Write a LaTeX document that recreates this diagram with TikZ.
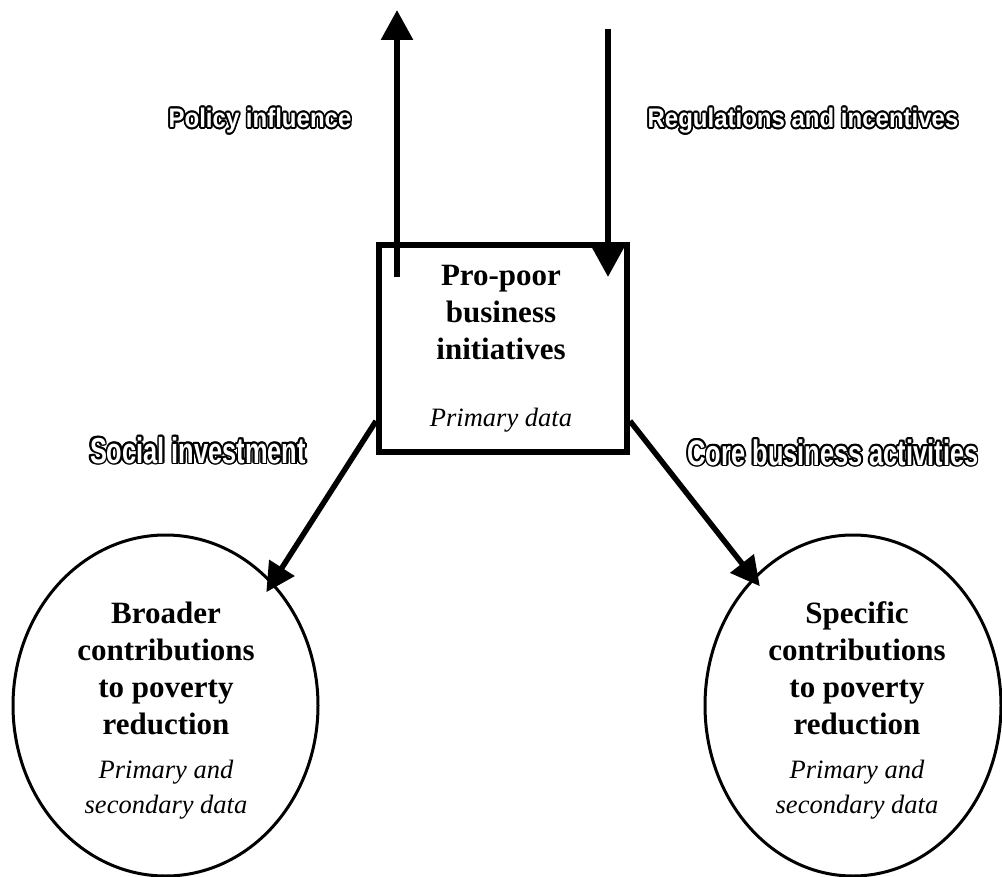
\documentclass[tikz,border=0pt]{standalone}
\usepackage{fontspec}
\setmainfont{Liberation Serif}
\newfontfamily\lblfont{Liberation Sans}
\usepackage{graphicx}
\usetikzlibrary{arrows.meta,shapes.geometric,calc}
\newcommand\olcopy[3]{\rlap{\kern#1\raisebox{#2}{#3}}}
\newcommand\outlinetext[2]{{%
  \def\olt{\scalebox{1}[#1]{#2}}%
  \color{black}%
  \foreach \dx/\dy in {1.7/0,1.57/0.65,1.2/1.2,0.65/1.57,0/1.7,-0.65/1.57,-1.2/1.2,-1.57/0.65,-1.7/0,-1.57/-0.65,-1.2/-1.2,-0.65/-1.57,0/-1.7,0.65/-1.57,1.2/-1.2,1.57/-0.65}{\olcopy{\dx pt}{\dy pt}{\olt}}%
  \color{white}\olt}}
\begin{document}
\begin{tikzpicture}[x=1pt,y=-1pt,
  boxstyle/.style={draw,line width=6pt,minimum width=248pt,minimum height=207pt,inner sep=0pt},
  ellstyle/.style={draw,ellipse,line width=3pt,minimum width=305pt,minimum height=341pt,inner sep=0pt},
  titletext/.style={font=\bfseries\fontsize{31}{37}\selectfont,inner sep=0pt,anchor=base},
  datatext/.style={font=\itshape\fontsize{26.5}{35}\selectfont,inner sep=0pt,anchor=base},
  smalllbl/.style={font=\lblfont\bfseries\fontsize{24}{28}\selectfont,inner sep=0pt,anchor=base},
  biglbl/.style={font=\lblfont\bfseries\fontsize{25.4}{30}\selectfont,inner sep=0pt,anchor=base},
  vertarrow/.style={line width=6pt,-{Triangle[width=31pt,length=30pt]}},
  diagarrow/.style={line width=5.5pt,-{Triangle[width=29pt,length=29pt]}}]
\useasboundingbox (0,0) rectangle (1002,877);
% shapes
\node[boxstyle] (box) at (503,348.5) {};
\node[ellstyle] (lell) at (165.5,705.5) {};
\node[ellstyle,minimum width=296pt] (rell) at (853,705.5) {};
% texts
\node[titletext] (boxtitle) at (501,286) {\begin{tabular}[t]{@{}c@{}}Pro-poor\\business\\initiatives\end{tabular}};
\node[datatext] (boxdata) at (501,427) {Primary data};
\node[titletext] (ltitle) at (166,623) {\begin{tabular}[t]{@{}c@{}}Broader\\contributions\\to poverty\\reduction\end{tabular}};
\node[datatext] (ldata) at (166,778) {\begin{tabular}[t]{@{}c@{}}Primary and\\secondary data\end{tabular}};
\node[titletext] (rtitle) at (857,623) {\begin{tabular}[t]{@{}c@{}}Specific\\contributions\\to poverty\\reduction\end{tabular}};
\node[datatext] (rdata) at (857,778) {\begin{tabular}[t]{@{}c@{}}Primary and\\secondary data\end{tabular}};
% outlined labels
\node[smalllbl] (policy) at (260,127.5) {\outlinetext{1.12}{Policy influence}};
\node[smalllbl] (regs) at (803,127.5) {\outlinetext{1.12}{Regulations and incentives}};
\node[biglbl] (social) at (198,463) {\outlinetext{1.42}{Social investment}};
\node[biglbl] (core) at (833,465) {\outlinetext{1.4}{Core business activities}};
% arrows
\coordinate (upfoot) at (397,277);
\coordinate (uptip) at (397,10);
\draw[vertarrow] (upfoot) -- (uptip);
\coordinate (downtop) at (608,29);
\coordinate (downtip) at (608,277);
\draw[vertarrow] (downtop) -- (downtip);
\draw[diagarrow,shorten >=-12pt] ($(box.south west)+(0,-34)$) -- (lell.49);
\draw[diagarrow,shorten >=-11pt] ($(box.south east)+(0,-34)$) -- (rell.128);
\end{tikzpicture}
\end{document}
